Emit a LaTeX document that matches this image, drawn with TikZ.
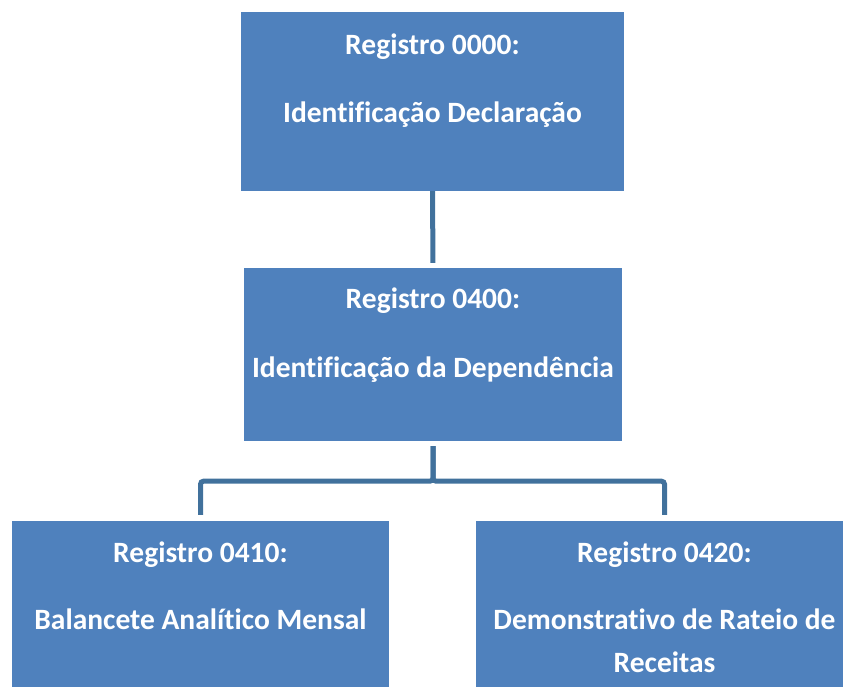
\documentclass[tikz,border=0pt]{standalone}
\usepackage{fontspec}
\setmainfont{Carlito}[Ligatures=CommonOff]
\definecolor{caixaazul}{HTML}{4F81BD}
\definecolor{linhaazul}{HTML}{41719C}

\begin{document}
\begin{tikzpicture}[x=1pt,y=-1pt,
  caixa/.style={rectangle, fill=caixaazul, inner sep=0pt, minimum width=#1, minimum height=179pt},
  texto/.style={anchor=base, inner sep=0pt, text=white, font=\fontsize{29.5}{34}\selectfont\bfseries},
  ligacao/.style={draw=linhaazul, line width=5pt, rounded corners=3pt}]
\useasboundingbox (0,0) rectangle (843,687);
% caixas
\node[caixa=383pt] (r0000) at (432.5,101.5) {};
\node[caixa=378pt, minimum height=173pt] (r0400) at (433,354.5) {};
\node[caixa=377pt] (r0410) at (200.5,610.5) {};
\node[caixa=377pt] (r0420) at (664.5,610.5) {};
% textos
\node[texto, yshift=-43pt] (t0000a) at (r0000.north) {Registro 0000:};
\node[texto, yshift=-111pt] (t0000b) at (r0000.north) {Identificação Declaração};
\node[texto, yshift=-41pt] (t0400a) at (r0400.north) {Registro 0400:};
\node[texto, yshift=-110pt] (t0400b) at (r0400.north) {Identificação da Dependência};
\node[texto, yshift=-42pt] (t0410a) at (r0410.north) {Registro 0410:};
\node[texto, yshift=-109pt] (t0410b) at (r0410.north) {Balancete Analítico Mensal};
\node[texto, yshift=-42pt] (t0420a) at (r0420.north) {Registro 0420:};
\node[texto, yshift=-109pt] (t0420b) at (r0420.north) {Demonstrativo de Rateio de};
\node[texto, yshift=-152pt] (t0420c) at (r0420.north) {Receitas};
% ligacoes
\draw[ligacao, shorten >=5pt] (r0000.south) -- (r0400.north);
\draw[ligacao, shorten <=5pt, shorten >=6pt] (r0400.south) -- ++(0,40) -| (r0410.north);
\draw[ligacao, shorten <=5pt, shorten >=6pt] (r0400.south) -- ++(0,40) -| (r0420.north);
\end{tikzpicture}
\end{document}
